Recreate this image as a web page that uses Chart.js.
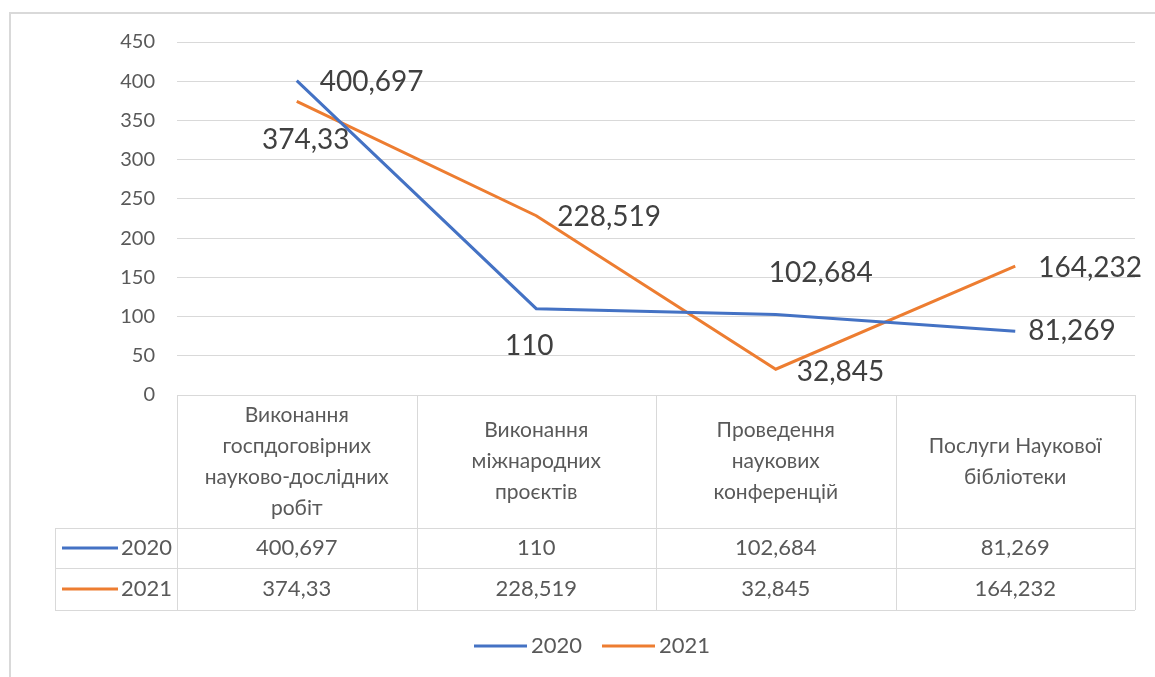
<!DOCTYPE html>
<html>
<head>
<meta charset="utf-8">
<script src="https://cdn.jsdelivr.net/npm/chart.js@4"></script>
<style>
  body { margin: 0; background: #fff; }
  #wrap { width: 1155px; height: 677px; }
</style>
</head>
<body>
<div id="wrap"><canvas id="myChart" width="1155" height="677"></canvas></div>
<script>
// Data
const categories = [
    ['Виконання', 'госпдоговірних', 'науково-дослідних', 'робіт'],
    ['Виконання', 'міжнародних', 'проєктів'],
    ['Проведення', 'наукових', 'конференцій'],
    ['Послуги Наукової', 'бібліотеки']
];
const seriesNames = ['2020', '2021'];
const values2020 = [400.697, 110, 102.684, 81.269];
const values2021 = [374.33, 228.519, 32.845, 164.232];
const yTicks = [0, 50, 100, 150, 200, 250, 300, 350, 400, 450];

const colors = ['#4472C4', '#ED7D31'];
const textColor = '#595959';
const gridColor = '#d9d9d9';
const font = 'Lato, "Liberation Sans", sans-serif';

// where each data label sits relative to its point: [align, dx, dy]
const labelOffsets = [
    [['left', 23, 1], ['center', -7, 37], ['center', 45, -41], ['left', 13, 0]],
    [['center', 9, 39], ['left', 21, 1], ['left', 21, 3], ['left', 23, 2]]
];

function fmt(v) {
    return String(v).replace('.', ',');
}

// draws data labels, the data table under the plot, the legend and the frame
const tablePlugin = {
    id: 'tablePlugin',
    beforeDraw(chart) {
        const ctx = chart.ctx;
        ctx.save();
        ctx.strokeStyle = gridColor;
        ctx.lineWidth = 2;
        ctx.beginPath();
        ctx.moveTo(10, 700);
        ctx.lineTo(10, 13);
        ctx.lineTo(1200, 13);
        ctx.stroke();
        ctx.restore();
    },
    afterDatasetsDraw(chart) {
        const ctx = chart.ctx;
        const x = chart.scales.x;
        const y = chart.scales.y;
        const area = chart.chartArea;
        const band = (area.right - area.left) / categories.length;

        ctx.save();

        // data labels
        ctx.font = '28px ' + font;
        ctx.fillStyle = '#404040';
        ctx.textBaseline = 'middle';
        chart.data.datasets.forEach((ds, di) => {
            ds.data.forEach((v, i) => {
                const px = x.getPixelForValue(i);
                const py = y.getPixelForValue(v);
                const off = labelOffsets[di][i];
                ctx.textAlign = off[0];
                ctx.fillText(fmt(v), px + off[1], py + off[2]);
            });
        });

        // table grid
        const headerBottom = 528;
        const row1Bottom = 568;
        const row2Bottom = 610;
        const leftCol = 55;
        ctx.strokeStyle = gridColor;
        ctx.lineWidth = 1;
        ctx.beginPath();
        ctx.moveTo(area.left, area.bottom + 0.5);
        ctx.lineTo(area.right, area.bottom + 0.5);
        [headerBottom, row1Bottom, row2Bottom].forEach(yy => {
            ctx.moveTo(leftCol, yy + 0.5);
            ctx.lineTo(area.right, yy + 0.5);
        });
        for (let i = 0; i <= categories.length; i++) {
            const xx = Math.round(area.left + band * i) + 0.5;
            ctx.moveTo(xx, area.bottom);
            ctx.lineTo(xx, row2Bottom);
        }
        ctx.moveTo(leftCol + 0.5, headerBottom);
        ctx.lineTo(leftCol + 0.5, row2Bottom);
        ctx.stroke();

        // header text
        ctx.font = '21px ' + font;
        ctx.fillStyle = textColor;
        ctx.textAlign = 'center';
        ctx.textBaseline = 'middle';
        const lineH = 31;
        const headMid = (area.bottom + headerBottom) / 2;
        categories.forEach((lines, i) => {
            const cx = x.getPixelForValue(i);
            const top = headMid - (lines.length - 1) * lineH / 2;
            lines.forEach((ln, k) => ctx.fillText(ln, cx, top + k * lineH));
        });

        // value rows
        ctx.font = '22px ' + font;
        const rows = [[headerBottom, row1Bottom], [row1Bottom, row2Bottom]];
        chart.data.datasets.forEach((ds, di) => {
            const ry = (rows[di][0] + rows[di][1]) / 2;
            ds.data.forEach((v, i) => {
                ctx.textAlign = 'center';
                ctx.fillText(fmt(v), x.getPixelForValue(i), ry);
            });
            ctx.textAlign = 'right';
            ctx.fillText(seriesNames[di], area.left - 5, ry);
            ctx.strokeStyle = colors[di];
            ctx.lineWidth = 3;
            ctx.beginPath();
            ctx.moveTo(62, ry);
            ctx.lineTo(118, ry);
            ctx.stroke();
        });

        // legend
        const legY = 646;
        const legX = [474, 602];
        ctx.textAlign = 'left';
        seriesNames.forEach((name, i) => {
            ctx.strokeStyle = colors[i];
            ctx.lineWidth = 3;
            ctx.beginPath();
            ctx.moveTo(legX[i], legY);
            ctx.lineTo(legX[i] + 53, legY);
            ctx.stroke();
            ctx.fillText(name, legX[i] + 57, legY);
        });

        ctx.restore();
    }
};

const ctx = document.getElementById('myChart').getContext('2d');
const myChart = new Chart(ctx, {
    type: 'line',
    data: {
        labels: categories.map(c => c.join(' ')),
        datasets: [{
            label: seriesNames[0],
            data: values2020,
            borderColor: colors[0],
            backgroundColor: colors[0],
            borderWidth: 3,
            pointRadius: 0,
            tension: 0,
            fill: false
        }, {
            label: seriesNames[1],
            data: values2021,
            borderColor: colors[1],
            backgroundColor: colors[1],
            borderWidth: 3,
            pointRadius: 0,
            tension: 0,
            fill: false
        }]
    },
    options: {
        responsive: false,
        animation: false,
        layout: {
            padding: { left: 107, right: 20, top: 42, bottom: 282 }
        },
        scales: {
            x: {
                display: false,
                offset: true
            },
            y: {
                min: 0,
                max: 450,
                afterFit: s => { s.width = 70; },
                afterBuildTicks: s => { s.ticks = yTicks.map(v => ({ value: v })); },
                border: { display: false },
                grid: { color: gridColor, lineWidth: 1, drawTicks: false },
                ticks: {
                    padding: 22,
                    color: textColor,
                    font: { family: font, size: 20 }
                }
            }
        },
        plugins: {
            legend: { display: false },
            tooltip: { enabled: false }
        }
    },
    plugins: [tablePlugin]
});
</script>
</body>
</html>
